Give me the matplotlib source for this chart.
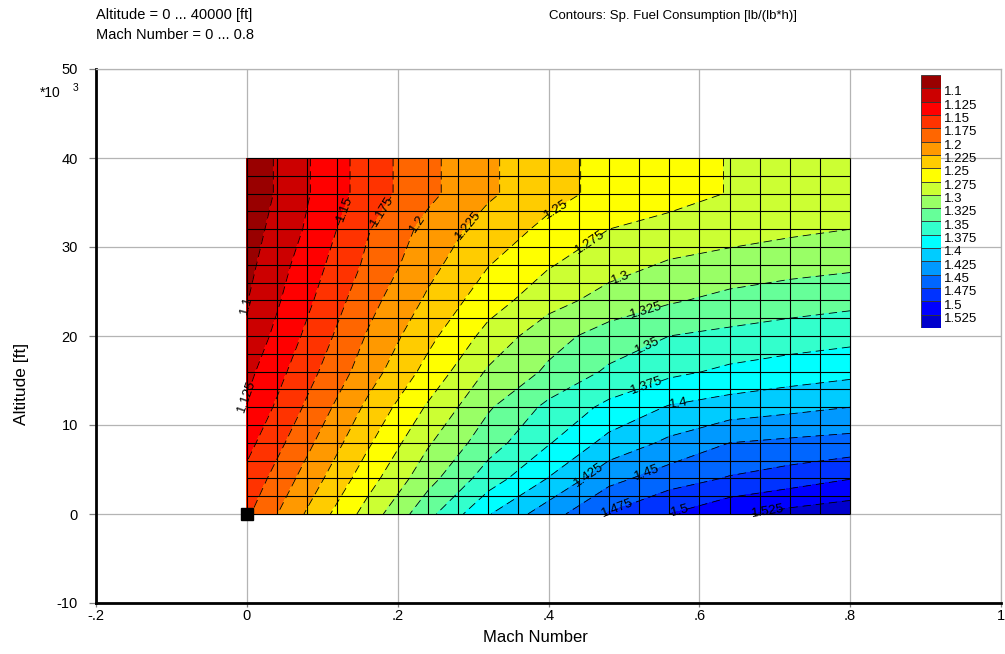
import numpy as np
import matplotlib
matplotlib.use("Agg")
import matplotlib.pyplot as plt

plt.rcParams['font.family'] = ['Liberation Sans', 'DejaVu Sans']
plt.rcParams['axes.unicode_minus'] = False
plt.rcParams['lines.scale_dashes'] = False
plt.rcParams['lines.dashed_pattern'] = [6, 3.5]

# grid of the map
mach = [0.0, 0.08, 0.16, 0.24, 0.32, 0.40, 0.48, 0.56, 0.64, 0.72, 0.80]
alt_kft = [0, 4, 8, 12, 16, 20, 24, 28, 32, 36, 40]

# specific fuel consumption [lb/(lb*h)], one row per altitude
sfc = [
    [1.171, 1.228, 1.285, 1.342, 1.398, 1.439, 1.477, 1.500, 1.520, 1.533, 1.541],
    [1.157, 1.210, 1.264, 1.316, 1.362, 1.401, 1.442, 1.463, 1.477, 1.487, 1.499],
    [1.142, 1.194, 1.246, 1.297, 1.339, 1.373, 1.408, 1.430, 1.450, 1.455, 1.459],
    [1.128, 1.179, 1.230, 1.278, 1.322, 1.356, 1.381, 1.402, 1.411, 1.418, 1.425],
    [1.118, 1.166, 1.213, 1.258, 1.303, 1.329, 1.354, 1.369, 1.380, 1.387, 1.393],
    [1.107, 1.155, 1.202, 1.243, 1.283, 1.316, 1.335, 1.350, 1.356, 1.362, 1.367],
    [1.099, 1.145, 1.191, 1.229, 1.264, 1.290, 1.310, 1.322, 1.332, 1.338, 1.343],
    [1.093, 1.137, 1.180, 1.217, 1.249, 1.273, 1.290, 1.303, 1.310, 1.316, 1.320],
    [1.088, 1.128, 1.173, 1.208, 1.236, 1.256, 1.275, 1.283, 1.289, 1.295, 1.300],
    [1.082, 1.123, 1.161, 1.194, 1.221, 1.242, 1.257, 1.266, 1.276, 1.283, 1.290],
    [1.082, 1.123, 1.161, 1.194, 1.221, 1.242, 1.257, 1.266, 1.276, 1.283, 1.290],
]

contour_levels = [1.1, 1.125, 1.15, 1.175, 1.2, 1.225, 1.25, 1.275, 1.3,
                  1.325, 1.35, 1.375, 1.4, 1.425, 1.45, 1.475, 1.5, 1.525]
band_colors = ['#990000', '#CC0000', '#FF0000', '#FF3300', '#FF6600', '#FF9900',
               '#FFCC00', '#FFFF00', '#CCFF33', '#99FF66', '#66FF99', '#33FFCC',
               '#00FFFF', '#00CCFF', '#0099FF', '#0066FF', '#0033FF', '#0000FF',
               '#0000CC']

# where the contour labels sit (mach, kft)
label_pos = [(0.0, 23.5), (0.0, 13.0), (0.123, 34.5), (0.176, 34.2), (0.225, 32.8),
             (0.291, 32.7), (0.405, 34.9), (0.45, 31.2), (0.492, 27.2), (0.527, 23.5),
             (0.529, 19.4), (0.527, 15.1), (0.571, 12.8), (0.45, 4.9), (0.529, 5.1),
             (0.49, 1.0), (0.571, 1.2), (0.688, 1.4)]

design_mach = [0.0]
design_alt = [0.0]

x_ticks = [-0.2, 0.0, 0.2, 0.4, 0.6, 0.8, 1.0]
x_ticklabels = ['-.2', '0', '.2', '.4', '.6', '.8', '1']
y_ticks = [-10, 0, 10, 20, 30, 40, 50]

fig = plt.figure(figsize=(10.05, 6.54), dpi=100)
ax = fig.add_axes([96 / 1005, 1 - 603 / 654, 905 / 1005, 534 / 654])

bounds = [0.5] + contour_levels + [2.5]
ax.contourf(mach, alt_kft, sfc, levels=bounds, colors=band_colors, zorder=1)

# computational mesh
ax.vlines(np.linspace(0, 0.8, 21), 0, 40, color='black', lw=0.8, zorder=2)
ax.hlines(np.linspace(0, 40, 21), 0, 0.8, color='black', lw=0.8, zorder=2)

# one contour set per level so each label lands on its own line
for lv, pos in zip(contour_levels, label_pos):
    cs = ax.contour(mach, alt_kft, sfc, levels=[lv], colors='black',
                    linewidths=0.6, linestyles='dashed', zorder=3)
    ax.clabel(cs, manual=[pos], fmt=lambda v: f'{v:g}',
              fontsize=9.5, colors='black', inline=True, inline_spacing=1)

ax.plot(design_mach, design_alt, 's', color='black', markersize=8, zorder=5, clip_on=False)

ax.set_xlim(-0.2, 1.0)
ax.set_ylim(-10, 50)
ax.set_xticks(x_ticks)
ax.set_xticklabels(x_ticklabels)
ax.set_yticks(y_ticks)
ax.grid(True, color='#b4b4b4', lw=0.9)
ax.set_axisbelow(True)
ax.tick_params(direction='out', length=5, width=0.9, color='#808080', labelsize=10.5)
ax.tick_params(axis='y', pad=8)
ax.tick_params(axis='x', length=3, pad=1)
for s in ['left', 'bottom']:
    ax.spines[s].set_linewidth(2)
    ax.spines[s].set_color('black')
for s in ['top', 'right']:
    ax.spines[s].set_linewidth(0.9)
    ax.spines[s].set_color('#b4b4b4')
ax.set_xlabel('Mach Number', fontsize=12)
ax.set_ylabel('Altitude [ft]', fontsize=12.5)
ax.xaxis.set_label_coords((535 - 96) / 905, -27 / 534)
ax.yaxis.set_label_coords(-67 / 905, (603 - 384) / 534)

fig.text(40 / 1005, 1 - 93 / 654, '*10', fontsize=10, va='center')
fig.text(73 / 1005, 1 - 88 / 654, '3', fontsize=7.5, va='center')

fig.text(96 / 1005, 1 - 15 / 654, 'Altitude = 0 ... 40000 [ft]', fontsize=10.5, va='center')
fig.text(96 / 1005, 1 - 35 / 654, 'Mach Number = 0 ... 0.8', fontsize=10.5, va='center')
fig.text(549 / 1005, 1 - 16 / 654, 'Contours: Sp. Fuel Consumption [lb/(lb*h)]',
         fontsize=9.5, va='center')

# legend bar
lax = fig.add_axes([921 / 1005, 1 - 328 / 654, 20 / 1005, 253 / 654])
n = len(band_colors)
lax.barh(np.arange(n)[::-1], 1, height=1, color=band_colors, edgecolor='#333333', lw=0.6)
lax.set_xlim(0, 1)
lax.set_ylim(-0.5, n - 0.5)
lax.set_xticks([])
lax.set_yticks(np.arange(n - 1)[::-1] + 0.3)
lax.set_yticklabels([f'{v:g}' for v in contour_levels])
lax.yaxis.tick_right()
lax.tick_params(axis='y', length=0, pad=2, labelsize=9.5)
for s in lax.spines.values():
    s.set_visible(False)

fig.savefig('out.png', dpi=100)
